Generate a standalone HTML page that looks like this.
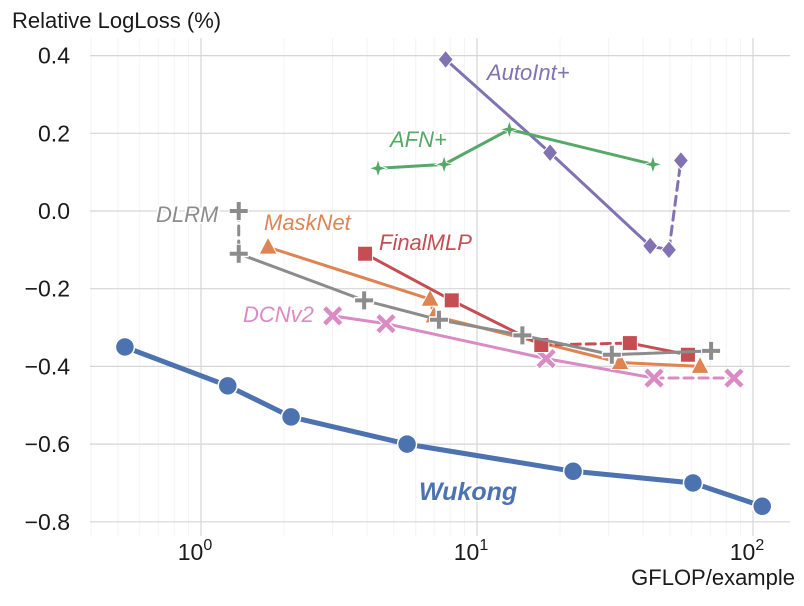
<!DOCTYPE html>
<html><head><meta charset="utf-8"><style>
body{margin:0;background:#fff;}
svg{display:block;font-family:"Liberation Sans",sans-serif;}
</style></head><body>
<svg id="chart" width="804" height="606" viewBox="0 0 804 606"></svg>
<script>
const yTicks=[0.4,0.2,0.0,-0.2,-0.4,-0.6,-0.8];
const yTickLabels=["0.4","0.2","0.0","\u22120.2","\u22120.4","\u22120.6","\u22120.8"];
const xTickExps=[0,1,2];
const wukongX=[0.53,1.25,2.12,5.58,22.3,60.6,108];
const wukongY=[-0.35,-0.45,-0.53,-0.60,-0.67,-0.70,-0.76];
const autoX=[7.7,18.4,42.4,49.6,54.8];
const autoY=[0.39,0.15,-0.09,-0.10,0.13];
const afnX=[4.38,7.6,13.1,43.4];
const afnY=[0.11,0.12,0.21,0.12];
const dlrmX=[1.37,1.37,3.9,7.28,14.6,30.8,70.5];
const dlrmY=[0.0,-0.11,-0.23,-0.28,-0.32,-0.37,-0.36];
const maskX=[1.75,6.76,6.98,33,64.3];
const maskY=[-0.093,-0.227,-0.27,-0.39,-0.40];
const finalX=[3.93,8.1,17.1,35.8,58.1];
const finalY=[-0.11,-0.23,-0.345,-0.34,-0.37];
const dcnX=[3.0,4.68,17.8,43.8,85.3];
const dcnY=[-0.27,-0.29,-0.38,-0.43,-0.43];

const NS="http://www.w3.org/2000/svg";
const svg=document.getElementById('chart');
const L=90,R=790,T=38,B=536;
function sx(v){return 201+276*Math.log10(v);}
function sy(v){return 211-388.5*v;}
function el(tag,attrs,parent){const e=document.createElementNS(NS,tag);for(const k in attrs)e.setAttribute(k,attrs[k]);(parent||svg).appendChild(e);return e;}

const grid=el('g',{});


for(let d=-1;d<=2;d++){for(let m=2;m<=9;m++){const x=sx(m*Math.pow(10,d));if(x>L&&x<R)el('line',{x1:x,x2:x,y1:T,y2:B,stroke:'#f3f3f3','stroke-width':1},grid);}}
xTickExps.forEach(e=>{const x=sx(Math.pow(10,e));el('line',{x1:x,x2:x,y1:T,y2:B,stroke:'#d6d6d6','stroke-width':1.2},grid);});
yTicks.forEach((v,i)=>{el('line',{x1:L,x2:R,y1:sy(v),y2:sy(v),stroke:'#d6d6d6','stroke-width':1.2},grid);
 const t=el('text',{x:70,y:sy(v)+8,'text-anchor':'end','font-size':23,fill:'#1a1a1a'});t.textContent=yTickLabels[i];
 
 });
xTickExps.forEach(e=>{const t=el('text',{x:sx(Math.pow(10,e))-6,y:560,'text-anchor':'middle','font-size':23,fill:'#1a1a1a'});
 
 
 t.textContent='10';const s=el('tspan',{dy:-10,'font-size':16},t);s.textContent=String(e);});
const yt=el('text',{x:12,y:28,'font-size':22,fill:'#1a1a1a'});yt.textContent='Relative LogLoss (%)';


const xt=el('text',{x:795,y:585,'text-anchor':'end','font-size':22,fill:'#1a1a1a'});xt.textContent='GFLOP/example';



function marker(g,type,x,y,c){
 if(type==='circle')el('circle',{cx:x,cy:y,r:9.5,fill:c,stroke:'#fff','stroke-width':1.5},g);
 else if(type==='diamond')el('polygon',{points:`${x},${y-9} ${x+7.5},${y} ${x},${y+9} ${x-7.5},${y}`,fill:c,stroke:'#fff','stroke-width':1},g);
 else if(type==='star'){let p=[];for(let i=0;i<8;i++){const r=i%2?3:9;const a=i*Math.PI/4-Math.PI/2;p.push((x+r*Math.cos(a))+','+(y+r*Math.sin(a)));}el('polygon',{points:p.join(' '),fill:c,stroke:'#fff','stroke-width':0.8},g);}
 else if(type==='plus'){el('path',{d:`M${x-10},${y}H${x+10}M${x},${y-10}V${y+10}`,stroke:'#fff','stroke-width':7},g);el('path',{d:`M${x-9},${y}H${x+9}M${x},${y-9}V${y+9}`,stroke:c,'stroke-width':4},g);}
 else if(type==='tri')el('polygon',{points:`${x},${y-10} ${x+9},${y+7} ${x-9},${y+7}`,fill:c,stroke:'#fff','stroke-width':1},g);
 else if(type==='square')el('rect',{x:x-7.5,y:y-7.5,width:15,height:15,fill:c,stroke:'#fff','stroke-width':1},g);
 else if(type==='x'){el('path',{d:`M${x-9},${y-9}L${x+9},${y+9}M${x-9},${y+9}L${x+9},${y-9}`,stroke:'#fff','stroke-width':7},g);el('path',{d:`M${x-8},${y-8}L${x+8},${y+8}M${x-8},${y+8}L${x+8},${y-8}`,stroke:c,'stroke-width':4.5},g);}
}
function series(name,xs,ys,c,type,w,dashed){
 const g=el('g',{});
 
 
 for(let i=0;i<xs.length-1;i++){
  const a={x1:sx(xs[i]),y1:sy(ys[i]),x2:sx(xs[i+1]),y2:sy(ys[i+1]),stroke:c,'stroke-width':w,'stroke-linecap':'round'};
  if(dashed.includes(i))a['stroke-dasharray']='9,6';
  el('line',a,g);
 }
 xs.forEach((v,i)=>marker(g,type,sx(v),sy(ys[i]),c));
}
series('autoint',autoX,autoY,'#8172b3','diamond',3,[3]);
series('afn',afnX,afnY,'#55a868','star',3,[]);
series('dcnv2',dcnX,dcnY,'#da8bc3','x',3,[3]);
series('masknet',maskX,maskY,'#dd8452','tri',3,[1]);
series('finalmlp',finalX,finalY,'#c44e52','square',3,[2]);
series('dlrm',dlrmX,dlrmY,'#8c8c8c','plus',3,[0]);
series('wukong',wukongX,wukongY,'#4c72b0','circle',5,[]);

function label(txt,x,y,c,name,bold){const t=el('text',{x:x,y:y,'font-size':bold?25:22,'font-style':'italic','font-weight':bold?'bold':'normal',fill:c,stroke:'#fff','stroke-width':4,'paint-order':'stroke'});t.textContent=txt;
 
 }
label('AutoInt+',487,80,'#8172b3','autoint-label');
label('AFN+',390,147,'#55a868','afn-label');
label('DLRM',156,222,'#8c8c8c','dlrm-label');
label('MaskNet',264,230,'#dd8452','masknet-label');
label('FinalMLP',379,250,'#c44e52','finalmlp-label');
label('DCNv2',243,322,'#da8bc3','dcnv2-label');
label('Wukong',419,500,'#4c72b0','wukong-label',true);
</script>
</body></html>
